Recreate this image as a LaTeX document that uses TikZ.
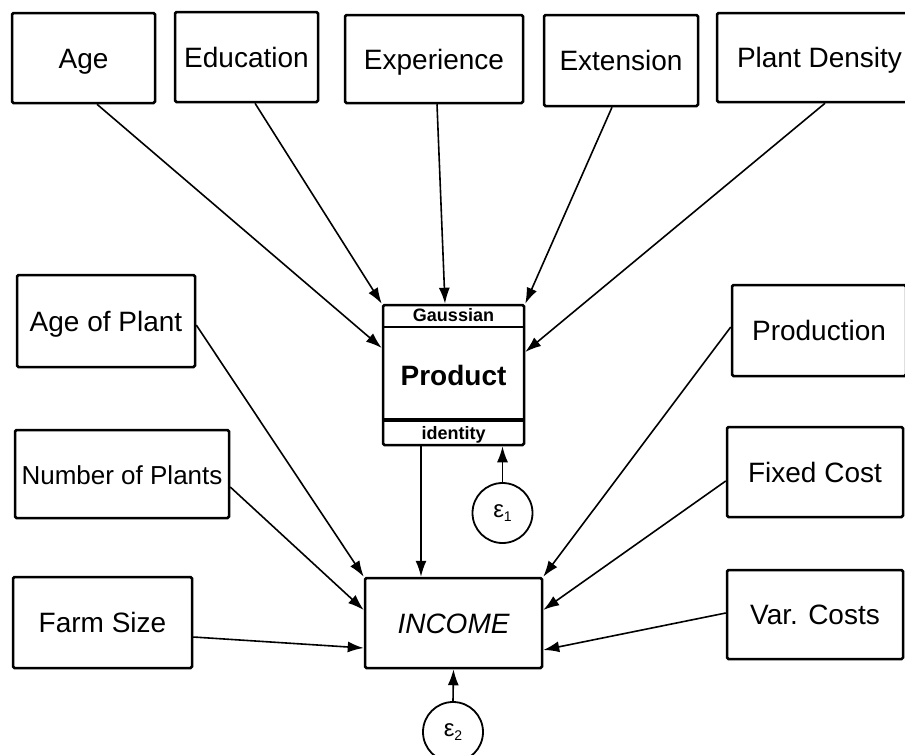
\documentclass[tikz,border=0pt]{standalone}
\usepackage{fontspec}
\setmainfont{Liberation Sans}
\usetikzlibrary{arrows.meta,calc}
\begin{document}
\begin{tikzpicture}[x=1pt,y=-1pt,
  box/.style={draw,line width=2.5pt,rounded corners=1.5pt,inner sep=0pt,text height=20pt,text depth=0pt,font=\fontsize{28}{32}\selectfont},
  arr/.style={line width=1.6pt,-{Latex[length=16pt,width=11pt]}},
  err/.style={draw,circle,line width=1.8pt,inner sep=0pt,minimum size=60pt},
  small/.style={font=\bfseries\fontsize{18}{18}\selectfont,inner sep=0pt,text height=13pt,text depth=0pt}]
\useasboundingbox (0,0) rectangle (905,755);
% top row
\node[box,minimum width=143pt,minimum height=90pt] (age) at (83.5,58) {Age};
\node[box,minimum width=143pt,minimum height=90pt] (edu) at (246.5,57) {Education};
\node[box,minimum width=178pt,minimum height=88pt] (exp) at (434,59) {Experience};
\node[box,minimum width=154pt,minimum height=91pt] (ext) at (621,60.5) {Extension};
\node[box,minimum width=205pt,minimum height=89pt] (pd) at (819.5,57.5) {Plant Density};
% left column
\node[box,minimum width=178pt,minimum height=92pt] (aop) at (106,321) {Age of Plant};
\node[box,minimum width=214pt,minimum height=88pt,font=\fontsize{26}{30}\selectfont] (nop) at (122,474) {Number of Plants};
\node[box,minimum width=179pt,minimum height=91pt] (fs) at (102.5,622.5) {Farm Size};
% right column
\node[box,minimum width=174pt,minimum height=91pt] (prodn) at (819,330.5) {Production};
\node[box,minimum width=176pt,minimum height=90pt] (fc) at (815,472) {Fixed Cost};
\node[box,minimum width=176pt,minimum height=89pt] (vc) at (815,614.5) {Var. Costs};
% Product
\node[box,minimum width=141pt,minimum height=140pt,font=\bfseries\fontsize{28}{32}\selectfont] (prod) at (453.5,375) {Product};
\draw[line width=2.5pt] ([yshift=-23pt]prod.north west) -- ([yshift=-23pt]prod.north east);
\draw[line width=4pt] ([yshift=26pt]prod.south west) -- ([yshift=26pt]prod.south east);
\node[small] (gauss) at ([yshift=-11.5pt]prod.north) {Gaussian};
\node[small] (ident) at ([yshift=13pt]prod.south) {identity};
% INCOME
\node[box,minimum width=177pt,minimum height=90pt,font=\itshape\fontsize{28}{32}\selectfont] (inc) at (453.5,623) {INCOME};
% errors
\node[err] (e1) at (502.5,513) {\fontsize{24}{24}\selectfont ε\raisebox{-4pt}{\fontsize{14}{14}\selectfont 1}};
\node[err] (e2) at (453,732) {\fontsize{24}{24}\selectfont ε\raisebox{-4pt}{\fontsize{14}{14}\selectfont 2}};
% arrows into Product
\draw[arr] ([xshift=13.5pt]age.south) -- ([yshift=27pt]prod.west);
\draw[arr] ([xshift=8.5pt]edu.south) -- (prod.north west);
\draw[arr] ([xshift=3pt]exp.south) -- ([xshift=-8.5pt]prod.north);
\draw[arr] ([xshift=-9pt]ext.south) -- (prod.north east);
\draw[arr] ([xshift=5.5pt]pd.south) -- ([yshift=23pt]prod.east);
\draw[arr] (e1.north) -- ([xshift=49pt]prod.south);
% arrows into INCOME
\draw[arr] ([yshift=-4pt]aop.east) -- (inc.north west);
\draw[arr] ([yshift=-13pt]nop.east) -- ([yshift=13pt]inc.west);
\draw[arr] ([yshift=-14.5pt]fs.east) -- ([yshift=-25pt]inc.west);
\draw[arr] ([xshift=-32.5pt]prod.south) -- ([xshift=-32.5pt]inc.north);
\draw[arr] ([yshift=3.5pt]prodn.west) -- (inc.north east);
\draw[arr] ([yshift=-9pt]fc.west) -- ([yshift=13pt]inc.east);
\draw[arr] ([yshift=1.5pt]vc.west) -- ([yshift=-27pt]inc.east);
\draw[arr] (e2.north) -- (inc.south);
\end{tikzpicture}
\end{document}
